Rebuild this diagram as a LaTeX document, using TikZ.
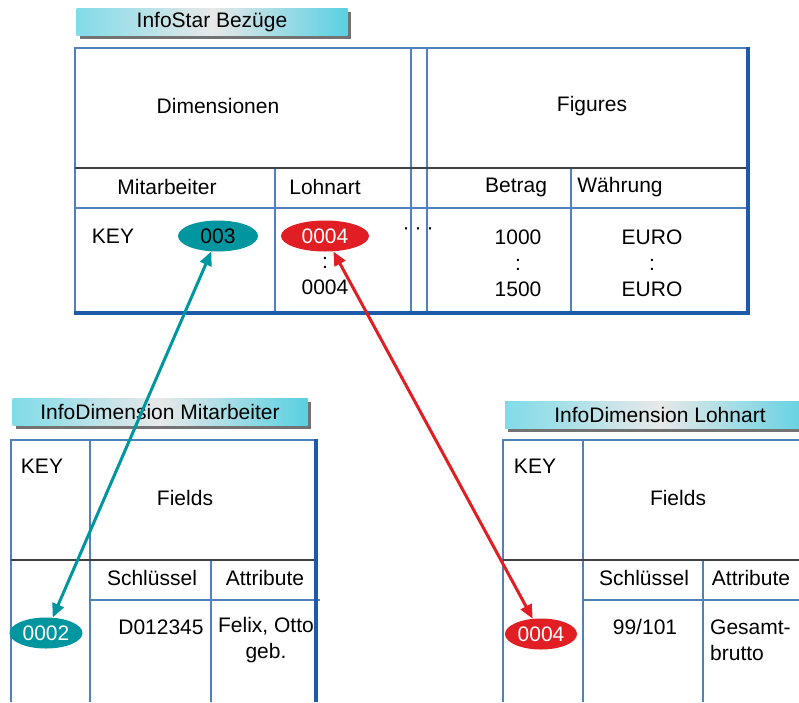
\documentclass[tikz,border=0pt]{standalone}
\usepackage{fontspec}
\setmainfont{Liberation Sans}
\usetikzlibrary{arrows.meta,shapes.geometric,shadows}
\definecolor{gridblue}{RGB}{79,129,189}
\definecolor{edgeblue}{RGB}{30,90,170}
\definecolor{keyteal}{RGB}{0,150,160}
\definecolor{keyred}{RGB}{225,30,35}
\definecolor{bannercyan}{RGB}{60,200,220}

\begin{document}
\begin{tikzpicture}[x=1pt,y=-1pt,
  font=\fontsize{21}{26}\selectfont,
  banner/.style={left color=bannercyan!65,right color=bannercyan!85,middle color=black!9,
    minimum height=27pt,inner sep=0pt,
    drop shadow={shadow xshift=3pt,shadow yshift=-3pt,fill=black!55,opacity=1}},
  grid/.style={draw=gridblue,line width=1.5pt},
  frame/.style={draw=edgeblue,line width=3.5pt},
  split/.style={draw=black!75,line width=1.3pt},
  cell/.style={inner sep=0pt,align=center},
  keyval/.style={ellipse,inner sep=0pt,minimum height=31pt},
  tealkey/.style={keyval,fill=keyteal},
  redkey/.style={keyval,fill=keyred,text=white},
  link/.style={{Triangle[length=14pt,width=12pt]}-{Triangle[length=14pt,width=12pt]},
    line width=3pt}]

  \useasboundingbox (0,0) rectangle (799,702);

  % InfoStar table
  \node[banner,minimum width=271pt] (starhead) at (212,22) {InfoStar Bezüge};
  \draw[grid] (75,313) -- (75,48) -- (748,48);
  \draw[grid] (411,48) -- (411,313) (427,48) -- (427,313);
  \draw[grid] (75,208) -- (748,208);
  \draw[grid] (275,168) -- (275,313) (571,168) -- (571,313);
  \draw[split] (75,168) -- (748,168);
  \draw[frame] (748,47) -- (748,313) -- (74,313);

  \node[cell] (dims) at (218,106) {Dimensionen};
  \node[cell] (figs) at (592,106) {Figures};
  \node[cell] (mitcol) at (167,187) {Mitarbeiter};
  \node[cell] (lohncol) at (325,187) {Lohnart};
  \node[cell] (betcol) at (516,187) {Betrag};
  \node[cell] (waecol) at (620,187) {Währung};
  \node[cell] (starkey) at (113,236) {KEY};
  \node[tealkey,minimum width=80pt] (k003) at (218,236) {003};
  \node[redkey,minimum width=88pt] (k0004) at (325,236) {0004};
  \node[cell] (lohnvals) at (325,276) {:\\0004};
  \node[cell] (more) at (418,231) {·\hspace{5pt}·\hspace{5pt}·};
  \node[cell] (betvals) at (518,263) {1000\\:\\1500};
  \node[cell] (waevals) at (652,263) {EURO\\:\\EURO};

  % InfoDimension Mitarbeiter
  \node[banner,minimum width=295pt] (mithead) at (160,412) {InfoDimension Mitarbeiter};
  \draw[grid] (11,702) -- (11,440) -- (316,440);
  \draw[grid] (90,440) -- (90,702) (211,560) -- (211,702);
  \draw[grid] (90,600) -- (320,600);
  \draw[split] (11,560) -- (316,560);
  \draw[frame] (316,439) -- (316,702);

  \node[cell] (mitkey) at (42,466) {KEY};
  \node[cell] (mitfields) at (185,498) {Fields};
  \node[cell] (mitschl) at (152,578) {Schlüssel};
  \node[cell] (mitattr) at (265,578) {Attribute};
  \node[cell] (mitid) at (161,627) {D012345};
  \node[cell] (mitname) at (266,640) {Felix, Otto\\geb.};
  \node[tealkey,minimum width=73pt,text=white] (k0002) at (46,633) {0002};

  % InfoDimension Lohnart
  \node[banner,minimum width=310pt] (lohnhead) at (660,415) {InfoDimension Lohnart};
  \draw[grid] (503,702) -- (503,440) -- (799,440);
  \draw[grid] (583,440) -- (583,702) (703,560) -- (703,702);
  \draw[grid] (583,600) -- (799,600);
  \draw[split] (503,560) -- (799,560);

  \node[cell] (lohnkey) at (535,466) {KEY};
  \node[cell] (lohnfields) at (678,498) {Fields};
  \node[cell] (lohnschl) at (644,578) {Schlüssel};
  \node[cell] (lohnattr) at (751,578) {Attribute};
  \node[cell] (lohnid) at (645,627) {99/101};
  \node[cell,align=left,anchor=west] (lohnname) at (710,640) {Gesamt-\\brutto};
  \node[redkey,minimum width=72pt] (k0004b) at (541,634) {0004};

  % key links
  \draw[link,draw=keyteal,fill=keyteal] (k003) -- (k0002);
  \draw[link,draw=keyred,fill=keyred] (k0004) -- (k0004b);

\end{tikzpicture}
\end{document}
